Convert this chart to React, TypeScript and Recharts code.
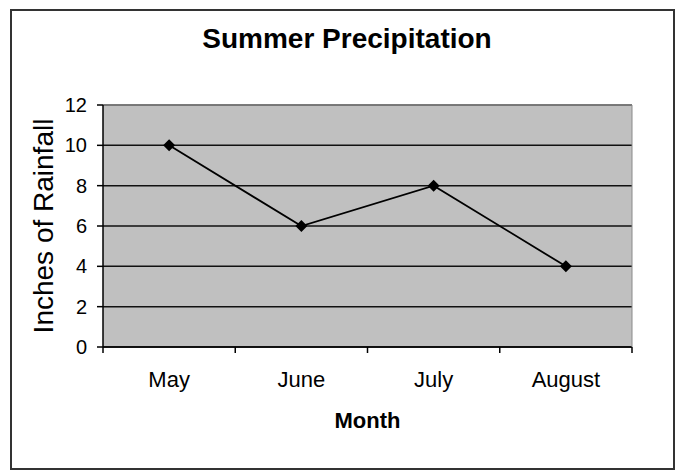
import React from 'react'
import {
  LineChart,
  Line,
  XAxis,
  YAxis,
  CartesianGrid,
  ReferenceLine,
  Label
} from 'recharts'

const months = ['May', 'June', 'July', 'August']
const rainfall = [10, 6, 8, 4]
const yTicks = [0, 2, 4, 6, 8, 10, 12]

const font = '"Liberation Sans", Arial, sans-serif'

const chartData = months.map((m, i) => ({ month: m, inches: rainfall[i] }))

// diamond marker like the old Excel charts
const Diamond = (props: any) => {
  const { cx, cy } = props
  if (cx == null || cy == null) return null
  const r = 6
  return (
    <path
      d={`M${cx},${cy - r}L${cx + r},${cy}L${cx},${cy + r}L${cx - r},${cy}Z`}
      fill="#000"
    />
  )
}

// month label centred in its band, tick marks drawn on the band edges
const MonthTick = (props: any) => {
  const { x, y, payload, index, visibleTicksCount } = props
  const half = payload.offset || 0
  const isLast = index === visibleTicksCount - 1
  return (
    <g>
      <line x1={x - half} y1={y} x2={x - half} y2={y + 6} stroke="#000" strokeWidth={1.5} />
      {isLast && (
        <line x1={x + half} y1={y} x2={x + half} y2={y + 6} stroke="#000" strokeWidth={1.5} />
      )}
      <text
        x={x}
        y={y + 40}
        textAnchor="middle"
        fill="#000"
        fontSize={22}
        fontFamily={font}
      >
        {payload.value}
      </text>
    </g>
  )
}

const App: React.FC = () => {
  return (
    <div
      style={{
        position: 'absolute',
        left: 0,
        top: 0,
        width: 676,
        height: 470,
        background: '#fff',
        fontFamily: font
      }}
    >
      <div
        style={{
          position: 'absolute',
          left: 10,
          top: 9,
          width: 661,
          height: 457,
          border: '2px solid #333'
        }}
      />
      <div
        style={{
          position: 'absolute',
          left: 187,
          width: 320,
          top: 25,
          textAlign: 'center',
          fontSize: 28,
          lineHeight: '28px',
          fontWeight: 'bold',
          color: '#000'
        }}
      >
        Summer Precipitation
      </div>
      <LineChart
        width={676}
        height={470}
        data={chartData}
        margin={{ top: 105, right: 0, bottom: 0, left: 0 }}
        style={{ position: 'absolute', left: 0, top: 0 }}
      >
        <CartesianGrid
          vertical={false}
          fill="#c0c0c0"
          fillOpacity={1}
          stroke="#111"
          strokeWidth={1.5}
        />
        <XAxis
          dataKey="month"
          scale="band"
          height={123}
          tickLine={false}
          tickSize={0}
          tickMargin={0}
          stroke="#000"
          strokeWidth={1.5}
          interval={0}
          tick={<MonthTick />}
        >
          <Label
            value="Month"
            position="insideBottom"
            offset={42}
            style={{ fill: '#000', fontSize: 22, fontWeight: 'bold', fontFamily: font }}
          />
        </XAxis>
        <YAxis
          domain={[0, 12]}
          ticks={yTicks}
          width={103}
          tickSize={6}
          tickMargin={10}
          stroke="#000"
          strokeWidth={1.5}
          tick={{ fill: '#000', fontSize: 20, fontFamily: font }}
        >
          <Label
            value="Inches of Rainfall"
            angle={-90}
            position="insideLeft"
            offset={43}
            style={{ textAnchor: 'middle', fill: '#000', fontSize: 28, fontFamily: font }}
          />
        </YAxis>
        <YAxis
          yAxisId="border"
          orientation="right"
          domain={[0, 12]}
          width={44}
          tick={false}
          tickLine={false}
          stroke="#8a8a8a"
        />
        <ReferenceLine y={12} stroke="#8a8a8a" strokeWidth={1.5} />
        <Line
          type="linear"
          dataKey="inches"
          stroke="#000"
          strokeWidth={1.8}
          dot={<Diamond />}
          activeDot={false}
          isAnimationActive={false}
        />
      </LineChart>
    </div>
  )
}

export default App
